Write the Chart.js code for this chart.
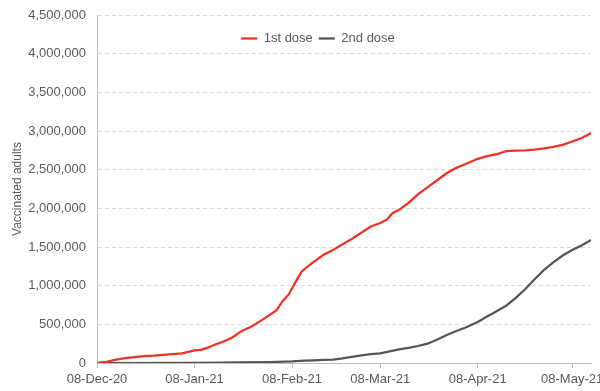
<!DOCTYPE html>
<html>
<head>
<meta charset="utf-8">
<script src="https://cdn.jsdelivr.net/npm/chart.js@4.4.1/dist/chart.umd.min.js"></script>
<style>
  html, body { margin: 0; padding: 0; background: #ffffff; }
  #wrap { width: 600px; height: 391px; position: relative; }
</style>
</head>
<body>
<div id="wrap"><canvas id="c" width="600" height="391"></canvas></div>
<script>
// ---- data ----
const startDate = '2020-12-08';
const endDate = '2021-05-14';

const firstDoseDates = ['2020-12-08','2020-12-11','2020-12-14','2020-12-17','2020-12-20','2020-12-23','2020-12-26','2020-12-29','2021-01-01','2021-01-04','2021-01-06','2021-01-08','2021-01-10','2021-01-12','2021-01-14','2021-01-17','2021-01-20','2021-01-23','2021-01-26','2021-01-29','2021-02-01','2021-02-03','2021-02-05','2021-02-07','2021-02-09','2021-02-11','2021-02-13','2021-02-15','2021-02-18','2021-02-21','2021-02-24','2021-02-27','2021-03-02','2021-03-05','2021-03-08','2021-03-10','2021-03-12','2021-03-14','2021-03-17','2021-03-20','2021-03-23','2021-03-26','2021-03-29','2021-04-01','2021-04-04','2021-04-08','2021-04-11','2021-04-14','2021-04-17','2021-04-20','2021-04-23','2021-04-26','2021-04-29','2021-05-02','2021-05-05','2021-05-08','2021-05-11','2021-05-14'];
const firstDose = [0,15000,44000,62000,75000,90000,95000,105000,115000,125000,145000,164000,170000,195000,230000,275000,330000,415000,470000,545000,625000,680000,800000,890000,1040000,1180000,1250000,1310000,1400000,1460000,1535000,1605000,1685000,1765000,1810000,1850000,1940000,1980000,2070000,2180000,2270000,2360000,2450000,2520000,2570000,2640000,2675000,2700000,2740000,2745000,2750000,2760000,2775000,2795000,2820000,2865000,2910000,2970000];

const secondDoseDates = ['2020-12-08','2021-01-08','2021-01-23','2021-02-01','2021-02-08','2021-02-12','2021-02-15','2021-02-18','2021-02-21','2021-02-24','2021-02-27','2021-03-02','2021-03-05','2021-03-08','2021-03-11','2021-03-14','2021-03-17','2021-03-20','2021-03-23','2021-03-26','2021-03-29','2021-04-01','2021-04-04','2021-04-08','2021-04-11','2021-04-14','2021-04-17','2021-04-20','2021-04-23','2021-04-26','2021-04-29','2021-05-02','2021-05-05','2021-05-08','2021-05-11','2021-05-14'];
const secondDose = [0,3000,8000,12000,20000,30000,35000,40000,45000,60000,80000,100000,115000,125000,150000,175000,195000,220000,250000,300000,360000,410000,455000,530000,600000,670000,740000,840000,950000,1080000,1200000,1300000,1390000,1460000,1520000,1590000];

const seriesNames = ['1st dose', '2nd dose'];
const tickDates = ['2020-12-08','2021-01-08','2021-02-08','2021-03-08','2021-04-08','2021-05-08'];
const tickLabels = ['08-Dec-20','08-Jan-21','08-Feb-21','08-Mar-21','08-Apr-21','08-May-21'];
const yTitle = 'Vaccinated adults';

// ---- helpers ----
function dayOf(s) {
  const p = s.split('-').map(Number);
  const q = startDate.split('-').map(Number);
  return Math.round((Date.UTC(p[0], p[1]-1, p[2]) - Date.UTC(q[0], q[1]-1, q[2])) / 86400000);
}
const toPoints = (ds, vs) => ds.map((d, i) => ({ x: dayOf(d), y: vs[i] }));
const tickDays = tickDates.map(dayOf);

const FONT = "'Liberation Sans', Arial, sans-serif";
const TXT = '#595959';

// legend laid out in a row inside the plot area, nudged to the reference spot
const legendInPlot = {
  id: 'legendInPlot',
  beforeLayout(chart) {
    if (chart.legend) chart.legend.isHorizontal = () => true;
  },
  afterLayout(chart) {
    const lg = chart.legend;
    if (!lg) return;
    const dx = 71, dy = 11;
    lg.left += dx; lg.right += dx; lg.top += dy; lg.bottom += dy;
  }
};

new Chart(document.getElementById('c'), {
  type: 'line',
  data: {
    datasets: [
      { label: seriesNames[0], data: toPoints(firstDoseDates, firstDose), borderColor: '#ee3124', backgroundColor: '#ee3124', borderWidth: 2.25, pointRadius: 0, tension: 0 },
      { label: seriesNames[1], data: toPoints(secondDoseDates, secondDose), borderColor: '#555555', backgroundColor: '#555555', borderWidth: 2.25, pointRadius: 0, tension: 0 }
    ]
  },
  options: {
    responsive: false,
    animation: false,
    devicePixelRatio: 1,
    layout: { padding: { top: 15, right: 9, left: 0, bottom: 0 } },
    plugins: {
      tooltip: { enabled: false },
      legend: {
        position: 'chartArea',
        align: 'center',
        labels: {
          usePointStyle: true,
          pointStyle: 'line',
          pointStyleWidth: 16,
          boxHeight: 13,
          padding: 6,
          color: TXT,
          font: { family: FONT, size: 13 }
        }
      }
    },
    scales: {
      x: {
        type: 'linear',
        min: 0,
        max: dayOf(endDate),
        afterBuildTicks: (s) => { s.ticks = tickDays.map(v => ({ value: v })); },
        afterFit: (s) => { s.height = 28; s.paddingLeft = 0; s.paddingRight = 0; },
        ticks: {
          autoSkip: false,
          maxRotation: 0,
          padding: 4,
          color: TXT,
          font: { family: FONT, size: 13 },
          callback: (v) => { const i = tickDays.indexOf(v); return i >= 0 ? tickLabels[i] : ''; }
        },
        grid: { drawOnChartArea: false, drawTicks: true, tickLength: 5, color: '#bfbfbf' },
        border: { display: true, color: '#bfbfbf', width: 1 }
      },
      y: {
        min: 0,
        max: 4500000,
        afterFit: (s) => { s.width = 97; s.paddingTop = 0; s.paddingBottom = 0; },
        ticks: {
          stepSize: 500000,
          padding: 11,
          color: TXT,
          font: { family: FONT, size: 13 },
          callback: (v) => v.toLocaleString('en-US')
        },
        grid: { color: '#d9d9d9', drawTicks: false, lineWidth: 1 },
        border: { display: true, color: '#bfbfbf', dash: [4, 3] },
        title: { display: true, text: yTitle, color: TXT, font: { family: FONT, size: 12 }, padding: { top: 10, bottom: 0 } }
      }
    }
  },
  plugins: [legendInPlot]
});
</script>
</body>
</html>
